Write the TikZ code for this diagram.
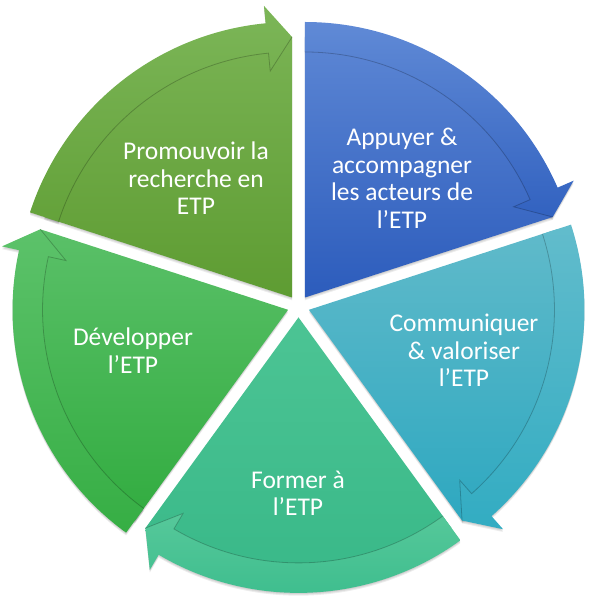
\documentclass[tikz,border=0pt]{standalone}
\usepackage{fontspec}
\setmainfont{Carlito}
\usetikzlibrary{calc}
\definecolor{gtlT}{RGB}{120,178,82}
\definecolor{gtlB}{RGB}{94,156,50}
\definecolor{gtlAT}{RGB}{124,182,88}
\definecolor{gtlAB}{RGB}{100,162,58}
\definecolor{blT}{RGB}{92,134,212}
\definecolor{blB}{RGB}{44,92,188}
\definecolor{blAT}{RGB}{96,138,214}
\definecolor{blAB}{RGB}{50,98,192}
\definecolor{tlT}{RGB}{96,186,202}
\definecolor{tlB}{RGB}{46,168,192}
\definecolor{tlAT}{RGB}{98,188,204}
\definecolor{tlAB}{RGB}{50,172,194}
\definecolor{bmT}{RGB}{76,196,148}
\definecolor{bmB}{RGB}{56,184,136}
\definecolor{bmAT}{RGB}{86,200,154}
\definecolor{bmAB}{RGB}{58,188,140}
\definecolor{lgT}{RGB}{90,192,104}
\definecolor{lgB}{RGB}{50,172,64}
\definecolor{lgAT}{RGB}{92,194,106}
\definecolor{lgAB}{RGB}{54,174,68}
\tikzset{
  labeltext/.style={text=white,align=center,inner sep=0pt,font=\fontsize{25.5}{27.5}\selectfont},
  innerline/.style={draw=black,draw opacity=.22,line width=.8pt},
  softshadow/.style={fill=black,fill opacity=.07},
}
% #1 ccw angle, #2 cw angle, #3/#4 body colours, #5/#6 arrow colours
\newcommand\segbodypath[2]{(0,0) -- (#1:260.5) arc[start angle=#1,end angle=#2,radius=260.5] -- cycle}
\newcommand\segarrowpath[2]{(#1:275.5) arc[start angle=#1,end angle=\seghead,radius=275.5]
      -- (\seghead:293) -- (#2:260.5) -- (\seghead:227.5) -- (\seghead:245.5)
      arc[start angle=\seghead,end angle=#1,radius=245.5] -- cycle}
\newcommand\cyclesegment[6]{%
  \pgfmathsetmacro\segbis{(#1+#2)/2}%
  \pgfmathsetmacro\seghead{#2+5.5}%
  \begin{scope}[shift={($(C)+(\segbis:11)$)}]
    \foreach \sh in {0.8,1.8,2.8}{%
      \path[softshadow,shift={(0,-\sh)}] \segbodypath{#1}{#2};
      \path[softshadow,shift={(0,-\sh)}] \segarrowpath{#1}{#2};
    }
    \shade[top color=#3,bottom color=#4] \segbodypath{#1}{#2};
    \shade[top color=#5,bottom color=#6] \segarrowpath{#1}{#2};
    \path[innerline] (#1:245.5) arc[start angle=#1,end angle=\seghead,radius=245.5] -- (\seghead:227.5) -- (#2:260.5);
  \end{scope}}
\begin{document}
\begin{tikzpicture}[x=1pt,y=1pt]
\useasboundingbox (0,0) rectangle (591,600);
\coordinate (C) at (298.5,293.6);
\cyclesegment{162}{90}{gtlT}{gtlB}{gtlAT}{gtlAB}
\cyclesegment{90}{18}{blT}{blB}{blAT}{blAB}
\cyclesegment{18}{-54}{tlT}{tlB}{tlAT}{tlAB}
\cyclesegment{306}{234}{bmT}{bmB}{bmAT}{bmAB}
\cyclesegment{234}{162}{lgT}{lgB}{lgAT}{lgAB}
\node[labeltext] (promo) at (196,421.5) {Promouvoir la\\recherche en\\ETP};
\node[labeltext] (appui) at (402,421.5) {Appuyer \&\\accompagner\\les acteurs de\\l’ETP};
\node[labeltext] (comm) at (464,249.5) {Communiquer\\\& valoriser\\l’ETP};
\node[labeltext] (dev) at (133,249.5) {Développer\\l’ETP};
\node[labeltext] (form) at (298,106.5) {Former à\\l’ETP};
\end{tikzpicture}
\end{document}
